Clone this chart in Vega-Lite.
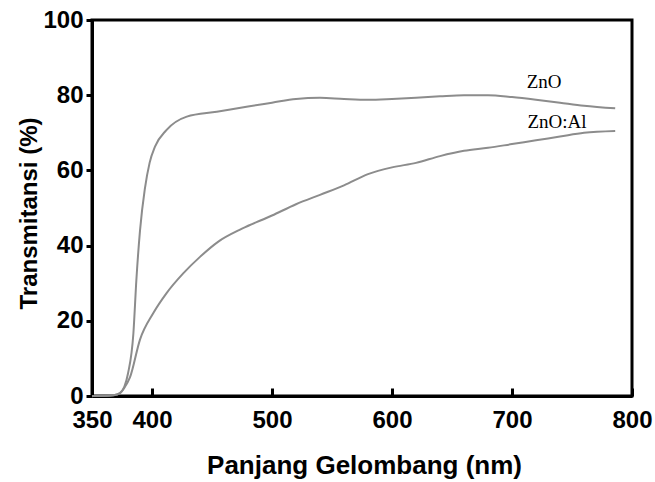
{
  "$schema": "https://vega.github.io/schema/vega-lite/v6.json",
  "autosize": "none",
  "width": 540,
  "height": 376,
  "padding": {"left": 92, "top": 20, "right": 23, "bottom": 86},
  "background": "white",
  "config": {
    "view": {"stroke": "black", "strokeWidth": 3},
    "axis": {"grid": false, "domainColor": "black", "domainWidth": 3, "tickColor": "black", "tickWidth": 3,
      "labelFont": "Liberation Sans", "labelFontWeight": "bold", "labelFontSize": 24, "labelColor": "black",
      "titleFont": "Liberation Sans", "titleFontWeight": "bold", "titleFontSize": 26, "titleColor": "black"}
  },
  "datasets": {
    "curves": [
      {"s": "ZnO", "nm": 350, "t": 0}, {"s": "ZnO", "nm": 360, "t": 0}, {"s": "ZnO", "nm": 368, "t": 0.2},
      {"s": "ZnO", "nm": 373, "t": 0.7}, {"s": "ZnO", "nm": 377, "t": 2.5}, {"s": "ZnO", "nm": 380, "t": 6},
      {"s": "ZnO", "nm": 384.5, "t": 16.7}, {"s": "ZnO", "nm": 387, "t": 31}, {"s": "ZnO", "nm": 390, "t": 44},
      {"s": "ZnO", "nm": 394, "t": 55}, {"s": "ZnO", "nm": 398, "t": 62}, {"s": "ZnO", "nm": 402.5, "t": 66.3},
      {"s": "ZnO", "nm": 412, "t": 70.7}, {"s": "ZnO", "nm": 429, "t": 74.3}, {"s": "ZnO", "nm": 454, "t": 75.6},
      {"s": "ZnO", "nm": 480, "t": 77}, {"s": "ZnO", "nm": 500, "t": 78}, {"s": "ZnO", "nm": 520, "t": 79},
      {"s": "ZnO", "nm": 540, "t": 79.3}, {"s": "ZnO", "nm": 560, "t": 79}, {"s": "ZnO", "nm": 580, "t": 78.8},
      {"s": "ZnO", "nm": 600, "t": 79}, {"s": "ZnO", "nm": 620, "t": 79.3}, {"s": "ZnO", "nm": 640, "t": 79.7},
      {"s": "ZnO", "nm": 660, "t": 80}, {"s": "ZnO", "nm": 680, "t": 80}, {"s": "ZnO", "nm": 700, "t": 79.5},
      {"s": "ZnO", "nm": 720, "t": 78.8}, {"s": "ZnO", "nm": 740, "t": 78}, {"s": "ZnO", "nm": 760, "t": 77.2},
      {"s": "ZnO", "nm": 786, "t": 76.5},
      {"s": "ZnO:Al", "nm": 350, "t": 0}, {"s": "ZnO:Al", "nm": 360, "t": 0}, {"s": "ZnO:Al", "nm": 368, "t": 0.2},
      {"s": "ZnO:Al", "nm": 373, "t": 0.7}, {"s": "ZnO:Al", "nm": 377, "t": 2.2}, {"s": "ZnO:Al", "nm": 381.7, "t": 5},
      {"s": "ZnO:Al", "nm": 390, "t": 15}, {"s": "ZnO:Al", "nm": 401, "t": 22}, {"s": "ZnO:Al", "nm": 412, "t": 27.3},
      {"s": "ZnO:Al", "nm": 426, "t": 32.6}, {"s": "ZnO:Al", "nm": 440, "t": 37}, {"s": "ZnO:Al", "nm": 455, "t": 41},
      {"s": "ZnO:Al", "nm": 475, "t": 44.5}, {"s": "ZnO:Al", "nm": 500, "t": 48}, {"s": "ZnO:Al", "nm": 520, "t": 51},
      {"s": "ZnO:Al", "nm": 540, "t": 53.5}, {"s": "ZnO:Al", "nm": 560, "t": 56}, {"s": "ZnO:Al", "nm": 580, "t": 59},
      {"s": "ZnO:Al", "nm": 600, "t": 60.8}, {"s": "ZnO:Al", "nm": 620, "t": 62}, {"s": "ZnO:Al", "nm": 640, "t": 63.8},
      {"s": "ZnO:Al", "nm": 660, "t": 65.2}, {"s": "ZnO:Al", "nm": 680, "t": 66}, {"s": "ZnO:Al", "nm": 700, "t": 67},
      {"s": "ZnO:Al", "nm": 720, "t": 68}, {"s": "ZnO:Al", "nm": 740, "t": 69}, {"s": "ZnO:Al", "nm": 760, "t": 70},
      {"s": "ZnO:Al", "nm": 786, "t": 70.5}
    ],
    "labels": [
      {"label": "ZnO", "nm": 726.7, "t": 83.5},
      {"label": "ZnO:Al", "nm": 737.5, "t": 72.9}
    ]
  },
  "layer": [
    {
      "data": {"name": "curves"},
      "mark": {"type": "line", "interpolate": "monotone", "strokeWidth": 2, "color": "#8c8c8c"},
      "encoding": {
        "x": {"field": "nm", "type": "quantitative", "scale": {"domain": [350, 800], "nice": false},
          "axis": {"title": "Panjang Gelombang (nm)", "values": [350, 400, 500, 600, 700, 800], "tickSize": -8, "labelPadding": 20, "labelFlush": false,
            "titleX": 272, "titleY": 69, "titleBaseline": "middle"}},
        "y": {"field": "t", "type": "quantitative", "scale": {"domain": [0, 100], "nice": false},
          "axis": {"title": "Transmitansi  (%)", "values": [0, 20, 40, 60, 80, 100], "tickSize": 6, "labelPadding": 3,
            "titleX": -63, "titleY": 193, "titleBaseline": "middle", "titleAlign": "center", "titleFontSize": 24}},
        "detail": {"field": "s"}
      }
    },
    {
      "data": {"name": "labels"},
      "mark": {"type": "text", "font": "Liberation Serif", "fontSize": 19, "color": "black"},
      "encoding": {
        "x": {"field": "nm", "type": "quantitative"},
        "y": {"field": "t", "type": "quantitative"},
        "text": {"field": "label"}
      }
    }
  ]
}
